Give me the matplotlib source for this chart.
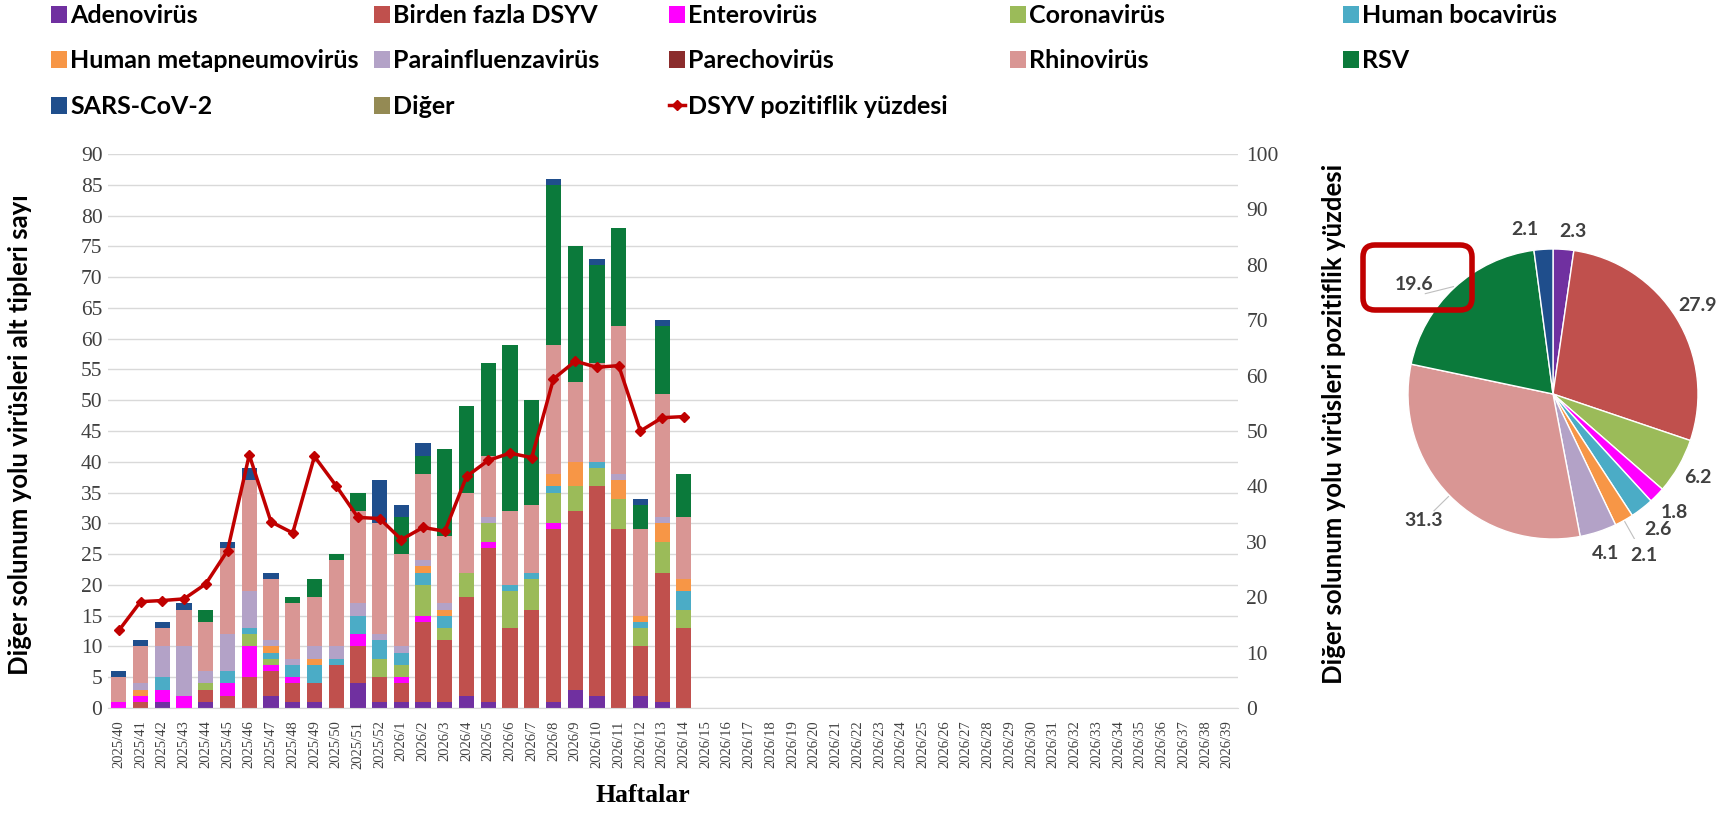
import numpy as np
import matplotlib.pyplot as plt
from matplotlib.patches import Patch, FancyBboxPatch
from matplotlib.lines import Line2D

# weeks on the x axis (bars only up to 2026/14)
weeks = [f"2025/{w}" for w in range(40, 53)] + [f"2026/{w}" for w in range(1, 40)]

# weekly counts per virus (2025/40 .. 2026/14)
adeno   = [0, 0, 1, 0, 1, 0, 0, 2, 1, 1, 0, 4, 1, 1, 1, 1, 2, 1, 0, 0, 1, 3, 2, 0, 2, 1, 0]
birden  = [0, 1, 0, 0, 2, 2, 5, 4, 3, 3, 7, 6, 4, 3, 13, 10, 16, 25, 13, 16, 28, 29, 34, 29, 8, 21, 13]
entero  = [1, 1, 2, 2, 0, 2, 5, 1, 1, 0, 0, 2, 0, 1, 1, 0, 0, 1, 0, 0, 1, 0, 0, 0, 0, 0, 0]
corona  = [0, 0, 0, 0, 1, 0, 2, 1, 0, 0, 0, 0, 3, 2, 5, 2, 4, 3, 6, 5, 5, 4, 3, 5, 3, 5, 3]
boca    = [0, 0, 2, 0, 0, 2, 1, 1, 2, 3, 1, 3, 3, 2, 2, 2, 0, 0, 1, 1, 1, 0, 1, 0, 1, 0, 3]
hmpv    = [0, 1, 0, 0, 0, 0, 0, 1, 0, 1, 0, 0, 0, 0, 1, 1, 0, 0, 0, 0, 2, 4, 0, 3, 1, 3, 2]
para    = [0, 1, 5, 8, 2, 6, 6, 1, 1, 2, 2, 2, 1, 1, 1, 1, 0, 1, 0, 0, 0, 0, 0, 1, 0, 1, 0]
parecho = [0] * 27
rhino   = [4, 6, 3, 6, 8, 14, 18, 10, 9, 8, 14, 15, 18, 15, 14, 11, 13, 10, 12, 11, 21, 13, 16, 24, 14, 20, 10]
rsv     = [0, 0, 0, 0, 2, 0, 0, 0, 1, 3, 1, 3, 0, 6, 3, 14, 14, 15, 27, 17, 26, 22, 16, 16, 4, 11, 7]
sars    = [1, 1, 1, 1, 0, 1, 2, 1, 0, 0, 0, 0, 7, 2, 2, 0, 0, 0, 0, 0, 1, 0, 1, 0, 1, 1, 0]
diger   = [0] * 27

# DSYV positivity (%), right axis
positivity = [14.0, 19.2, 19.4, 19.7, 22.4, 28.4, 45.7, 33.6, 31.6, 45.4, 40.1, 34.4, 34.2,
              30.4, 32.6, 31.9, 41.8, 44.7, 46.0, 45.2, 59.4, 62.6, 61.5, 61.8, 50.0, 52.4, 52.6]

names = ['Adenovirüs', 'Birden fazla DSYV', 'Enterovirüs', 'Coronavirüs', 'Human bocavirüs',
         'Human metapneumovirüs', 'Parainfluenzavirüs', 'Parechovirüs', 'Rhinovirüs', 'RSV',
         'SARS-CoV-2', 'Diğer']
series = [adeno, birden, entero, corona, boca, hmpv, para, parecho, rhino, rsv, sars, diger]
colors = ['#7030A0', '#C0504D', '#FF00FF', '#9BBB59', '#4BACC6', '#F79646', '#B3A2C7',
          '#8B2C2C', '#D99694', '#0B7A3B', '#1F4E8C', '#948A54']

# pie (clockwise from top)
pie_names = ['Adenovirüs', 'Birden fazla DSYV', 'Coronavirüs', 'Enterovirüs', 'Human bocavirüs',
             'Human metapneumovirüs', 'Parainfluenzavirüs', 'Rhinovirüs', 'RSV', 'SARS-CoV-2']
pie_values = [2.3, 27.9, 6.2, 1.8, 2.6, 2.1, 4.1, 31.3, 19.6, 2.1]

sans = 'Lato'
serif = 'Liberation Serif'

fig = plt.figure(figsize=(17.26, 8.13), dpi=100)
W, H = 1726, 813
ax = fig.add_axes([108 / W, 1 - 708 / H, (1238 - 108) / W, (708 - 154) / H])

x = np.arange(len(weeks))
xb = x[:len(positivity)]
bottom = np.zeros(len(xb))
for vals, c in zip(series, colors):
    ax.bar(xb, vals, 0.7, bottom=bottom, color=c, zorder=2)
    bottom += np.array(vals)

ax.set_xlim(-0.5, len(weeks) - 0.5)
ax.set_ylim(0, 90)
ax.set_yticks(np.arange(0, 91, 5))
ax.set_xticks(x)
ax.set_xticklabels(weeks, rotation=90, fontsize=10.5, family=serif, color='#404040')
for lab in ax.get_yticklabels():
    lab.set_family(serif)
    lab.set_fontsize(15.5)
    lab.set_color('#404040')
ax.yaxis.grid(True, color='#D9D9D9', lw=1)
ax.set_axisbelow(True)
for s in ['top', 'left', 'right']:
    ax.spines[s].set_visible(False)
ax.spines['bottom'].set_color('#D9D9D9')
ax.tick_params(axis='y', length=0, pad=4)
ax.tick_params(axis='x', length=0, pad=9)

ax2 = ax.twinx()
ax2.plot(xb, positivity, color='#C00000', lw=2.5, marker='D', ms=5, zorder=3)
ax2.set_ylim(0, 100)
ax2.set_yticks(np.arange(0, 101, 10))
for lab in ax2.get_yticklabels():
    lab.set_family(serif)
    lab.set_fontsize(15.5)
    lab.set_color('#404040')
for s in ax2.spines.values():
    s.set_visible(False)
ax2.tick_params(length=0, pad=6)

fig.text(20 / W, 1 - 435 / H, 'Diğer solunum yolu virüsleri alt tipleri sayı', rotation=90,
         ha='center', va='center', family=sans, fontweight='bold', fontsize=18.5)
fig.text(1334 / W, 1 - 424 / H, 'Diğer solunum yolu virüsleri pozitiflik yüzdesi', rotation=90,
         ha='center', va='center', family=sans, fontweight='bold', fontsize=18.5)
fig.text(643 / W, 1 - 795 / H, 'Haftalar', ha='center', va='center', family=serif,
         fontweight='bold', fontsize=18.5)

# legend: 5 columns filled row by row
handles = [Patch(facecolor=c) for c in colors] + \
          [Line2D([], [], color='#C00000', lw=2.5, marker='D', ms=5)]
labels = names + ['DSYV pozitiflik yüzdesi']
col_x = [51, 374, 669, 1010, 1343]
for c, cx in enumerate(col_x):
    leg = fig.legend(handles[c::5], labels[c::5], loc='upper left',
                     bbox_to_anchor=(cx / W, 1 - 4 / H), frameon=False,
                     prop={'family': sans, 'weight': 'bold', 'size': 18},
                     handlelength=0.65, handleheight=0.65, handletextpad=0.12,
                     labelspacing=0.9, borderpad=0, borderaxespad=0)

# pie
axp = fig.add_axes([(1553 - 145) / W, 1 - (394 + 145) / H, 290 / W, 290 / H])
pie_colors = [colors[names.index(n)] for n in pie_names]
wedges, _ = axp.pie(pie_values, colors=pie_colors, startangle=90, counterclock=False,
                    wedgeprops=dict(edgecolor='white', linewidth=1))
dist = [1.13, 1.17, 1.15, 1.17, 1.18, 1.28, 1.16, 1.25, 1.22, 1.15]
shift = [-3, 0, 0, 0, 0, 0, 0, 0, 9, 6]
for w, v, d, sh in zip(wedges, pie_values, dist, shift):
    mid = np.deg2rad((w.theta1 + w.theta2) / 2)
    a = mid + np.deg2rad(sh)
    axp.text(d * np.cos(a), d * np.sin(a), f"{v:.1f}", ha='center', va='center',
             family=sans, fontweight='bold', fontsize=14, color='#404040')
    if d > 1.2:
        axp.plot([1.01 * np.cos(mid), (d - 0.1) * np.cos(a)], [1.01 * np.sin(mid), (d - 0.1) * np.sin(a)],
                 color='#BFBFBF', lw=0.8)
axp.set_xlim(-1, 1)
axp.set_ylim(-1, 1)
axp.set_aspect('equal')
axp.axis('off')

box = FancyBboxPatch((13.63, (H - 310) / 100), 1.09, 0.65,
                     boxstyle='round,pad=0,rounding_size=0.12', transform=fig.dpi_scale_trans,
                     facecolor='none', edgecolor='#C00000', linewidth=4)
fig.add_artist(box)

fig.savefig('out.png', dpi=100)
